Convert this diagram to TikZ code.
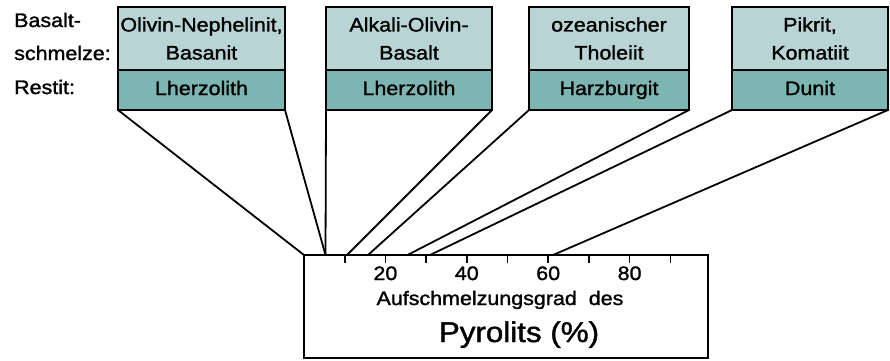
\documentclass[tikz,border=0pt]{standalone}
\usepackage{fontspec}
\setmainfont{Liberation Sans}[FakeStretch=1.1, FakeBold=1.4]
\definecolor{melt}{HTML}{B8D4D4}
\definecolor{restit}{HTML}{7DB5B3}
\begin{document}
\begin{tikzpicture}[x=1pt,y=-1pt,
  box/.style={draw=black, line width=1.8pt, rectangle, inner sep=0pt, outer sep=0pt, align=center,
    font=\fontsize{19.5}{28}\selectfont},
  upbox/.style={box, fill=melt, minimum height=63pt, anchor=north west},
  lowbox/.style={box, fill=restit, minimum height=40pt, anchor=north, text height=14pt, text depth=4pt},
  conn/.style={line width=1.8pt, line join=round},
  lbl/.style={font=\fontsize{19.5}{22}\selectfont, anchor=base west, inner sep=0pt},
  num/.style={font=\fontsize{19.5}{22}\selectfont, anchor=base, inner sep=0pt}]
\useasboundingbox (0,0) rectangle (890,360);
\fill[white] (0,0) rectangle (890,360);

% left labels
\node[lbl] (t1) at (14,27) {Basalt-};
\node[lbl] (t2) at (14,60) {schmelze:};
\node[lbl] (t3) at (14,94) {Restit:};

% boxes
\node[upbox, minimum width=167pt] (u1) at (118,7) {Olivin-Nephelinit,\\Basanit};
\node[lowbox, minimum width=167pt] (l1) at (u1.south) {Lherzolith};
\node[upbox, minimum width=166pt] (u2) at (326,7) {Alkali-Olivin-\\Basalt};
\node[lowbox, minimum width=166pt] (l2) at (u2.south) {Lherzolith};
\node[upbox, minimum width=160pt] (u3) at (529,7) {ozeanischer\\Tholeiit};
\node[lowbox, minimum width=160pt] (l3) at (u3.south) {Harzburgit};
\node[upbox, minimum width=156pt] (u4) at (732,7) {Pikrit,\\Komatiit};
\node[lowbox, minimum width=156pt] (l4) at (u4.south) {Dunit};

% axis box
\node[draw=black, line width=1.8pt, rectangle, inner sep=0pt, outer sep=0pt,
  minimum width=404pt, minimum height=103pt, anchor=north west] (ax) at (304,255) {};
\foreach \p in {10,20,...,90}{
  \draw[line width=1.6pt] ({304+4.07*\p},255) -- ({304+4.07*\p},263);
}
\foreach \p in {20,40,60,80}{
  \node[num] (n\p) at ({304+4.07*\p},280) {\p};
}
\node[font=\fontsize{19.5}{22}\selectfont, anchor=base, inner sep=0pt] (xl1) at (500,305) {Aufschmelzungsgrad\hspace{12pt}des};
\node[font=\fontsize{28.5}{32}\selectfont, anchor=base, inner sep=0pt] (xl2) at (519,342) {Pyrolits (\%)};

% axis points
\coordinate (a0) at (304,255);
\coordinate (a5) at (325.5,255);
\coordinate (a10) at (347,255);
\coordinate (a15) at (368,255);
\coordinate (a25) at (407.5,255);
\coordinate (a31) at (430,255);
\coordinate (a61) at (553,255);

% connectors
\draw[conn] (l1.south west) -- (a0);
\draw[conn] (l1.south east) -- (a5);
\draw[conn] (l2.south west) -- (a5);
\draw[conn] (l2.south east) -- (a10);
\draw[conn] (l3.south west) -- (a15);
\draw[conn] (l3.south east) -- (a25);
\draw[conn] (l4.south west) -- (a31);
\draw[conn] (l4.south east) -- (a61);
\end{tikzpicture}
\end{document}
